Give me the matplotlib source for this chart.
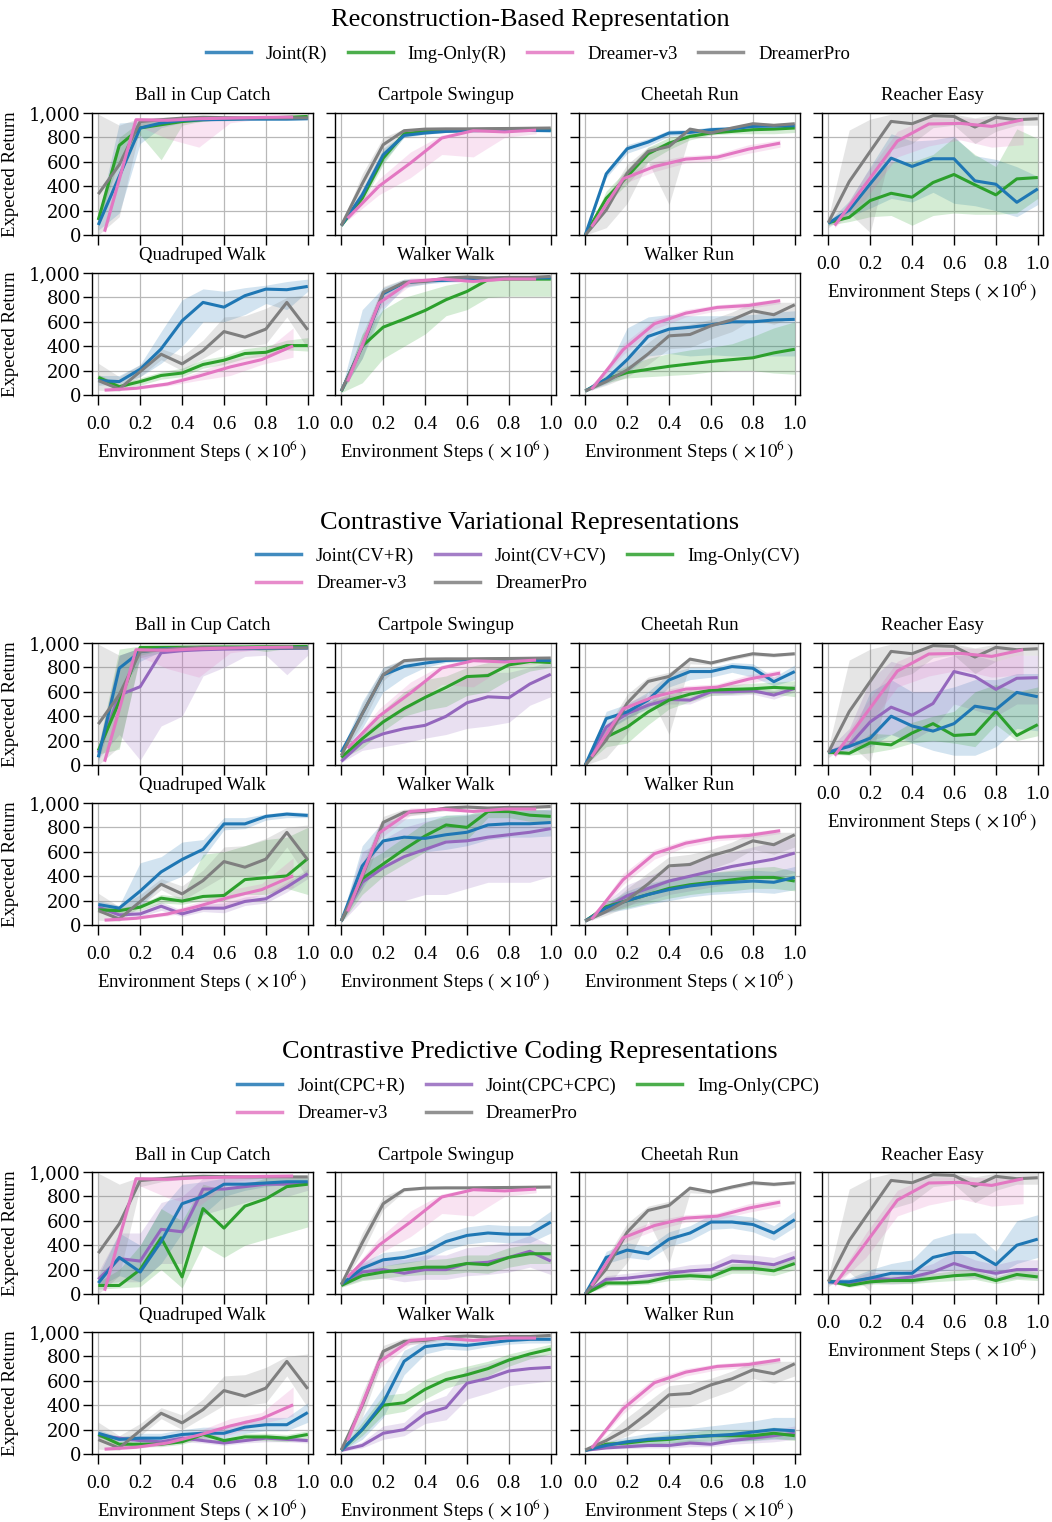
import matplotlib
matplotlib.use('Agg')
import matplotlib.pyplot as plt
import matplotlib.lines as mlines
from matplotlib.ticker import FuncFormatter

plt.rc('font', family='Liberation Serif')
plt.rc('mathtext', fontset='stix')

STEPS = [0.0, 0.1, 0.2, 0.3, 0.4, 0.5, 0.6, 0.7, 0.8, 0.9, 1.0]
DREAMER_STEPS = [0.03, 0.18, 0.33, 0.48, 0.63, 0.78, 0.93]

TASKS = ['Ball in Cup Catch', 'Cartpole Swingup', 'Cheetah Run', 'Reacher Easy',
         'Quadruped Walk', 'Walker Walk', 'Walker Run']

# ---- DreamerPro (shared by all three sections) ----
PRO_MEAN = {
    'Ball in Cup Catch': [335, 575, 930, 945, 958, 965, 962, 960, 960, 960, 960],
    'Cartpole Swingup': [77, 420, 740, 855, 868, 870, 870, 872, 873, 875, 877],
    'Cheetah Run': [0, 205, 507, 685, 726, 868, 836, 877, 912, 899, 912],
    'Reacher Easy': [101, 438, 685, 931, 912, 978, 972, 885, 964, 945, 953],
    'Quadruped Walk': [118, 49, 192, 334, 255, 364, 520, 474, 540, 759, 534],
    'Walker Walk': [33, 397, 841, 923, 931, 959, 967, 959, 964, 964, 972],
    'Walker Run': [33, 110, 205, 337, 485, 496, 567, 616, 690, 658, 740],
}
PRO_LO = {
    'Ball in Cup Catch': [0, 150, 880, 920, 940, 950, 950, 950, 950, 950, 950],
    'Cartpole Swingup': [70, 340, 690, 840, 860, 862, 862, 865, 865, 865, 870],
    'Cheetah Run': [0, 60, 260, 600, 250, 830, 820, 860, 895, 885, 900],
    'Reacher Easy': [60, 180, 20, 700, 750, 880, 900, 750, 850, 900, 900],
    'Quadruped Walk': [40, 30, 150, 290, 200, 300, 400, 400, 420, 640, 380],
    'Walker Walk': [25, 300, 780, 890, 910, 940, 955, 945, 950, 950, 955],
    'Walker Run': [25, 80, 150, 250, 380, 390, 460, 520, 620, 580, 640],
}
PRO_HI = {
    'Ball in Cup Catch': [990, 900, 960, 965, 970, 975, 970, 970, 970, 970, 970],
    'Cartpole Swingup': [85, 500, 800, 870, 875, 878, 878, 880, 880, 880, 882],
    'Cheetah Run': [10, 300, 580, 720, 760, 880, 850, 890, 925, 915, 925],
    'Reacher Easy': [140, 860, 950, 990, 990, 990, 990, 960, 990, 990, 990],
    'Quadruped Walk': [260, 150, 250, 380, 320, 450, 640, 650, 710, 800, 820],
    'Walker Walk': [40, 500, 890, 950, 950, 970, 975, 970, 975, 975, 980],
    'Walker Run': [40, 150, 300, 430, 560, 580, 620, 680, 760, 760, 760],
}

# ---- Dreamer-v3 (shared, evaluated at DREAMER_STEPS) ----
V3_MEAN = {
    'Ball in Cup Catch': [27, 945, 940, 953, 958, 964, 967],
    'Cartpole Swingup': [137, 400, 590, 795, 855, 845, 860],
    'Cheetah Run': [68, 460, 561, 622, 638, 704, 753],
    'Reacher Easy': [77, 420, 770, 910, 915, 890, 945],
    'Quadruped Walk': [40, 55, 90, 155, 230, 290, 403],
    'Walker Walk': [110, 753, 931, 950, 931, 950, 950],
    'Walker Run': [47, 370, 584, 671, 718, 734, 773],
}
V3_LO = {
    'Ball in Cup Catch': [10, 900, 790, 720, 920, 950, 960],
    'Cartpole Swingup': [120, 330, 470, 660, 640, 800, 830],
    'Cheetah Run': [55, 420, 520, 590, 610, 670, 720],
    'Reacher Easy': [60, 300, 640, 730, 780, 720, 740],
    'Quadruped Walk': [30, 45, 75, 120, 160, 250, 310],
    'Walker Walk': [90, 700, 900, 935, 920, 940, 940],
    'Walker Run': [35, 330, 540, 640, 690, 710, 750],
}
V3_HI = {
    'Ball in Cup Catch': [40, 960, 960, 965, 968, 970, 972],
    'Cartpole Swingup': [150, 460, 680, 820, 870, 870, 875],
    'Cheetah Run': [80, 500, 600, 650, 665, 740, 780],
    'Reacher Easy': [95, 500, 850, 960, 960, 950, 960],
    'Quadruped Walk': [50, 70, 110, 190, 290, 340, 550],
    'Walker Walk': [130, 830, 960, 965, 950, 962, 962],
    'Walker Run': [60, 420, 620, 700, 740, 760, 790],
}

# ---- Reconstruction-based ----
JOINT_R_MEAN = {
    'Ball in Cup Catch': [82, 480, 877, 918, 940, 945, 948, 950, 950, 950, 953],
    'Cartpole Swingup': [77, 329, 657, 816, 836, 849, 855, 857, 857, 857, 855],
    'Cheetah Run': [0, 501, 707, 762, 836, 841, 863, 870, 890, 893, 896],
    'Reacher Easy': [96, 205, 419, 630, 562, 625, 625, 444, 416, 268, 378],
    'Quadruped Walk': [118, 110, 211, 378, 608, 759, 720, 814, 868, 863, 890],
    'Walker Walk': [33, 400, 830, 920, 935, 940, 945, 955, 960, 960, 960],
    'Walker Run': [33, 130, 290, 480, 540, 555, 575, 600, 600, 615, 620],
}
JOINT_R_LO = {
    'Ball in Cup Catch': [40, 180, 750, 880, 920, 930, 935, 940, 940, 940, 945],
    'Cartpole Swingup': [70, 290, 600, 800, 825, 840, 845, 848, 848, 848, 845],
    'Cheetah Run': [0, 470, 670, 730, 810, 820, 840, 850, 870, 875, 880],
    'Reacher Easy': [80, 150, 220, 300, 270, 350, 260, 240, 200, 150, 250],
    'Quadruped Walk': [80, 90, 150, 260, 400, 600, 600, 660, 750, 700, 850],
    'Walker Walk': [20, 300, 700, 880, 910, 925, 930, 940, 945, 945, 945],
    'Walker Run': [25, 90, 180, 320, 340, 320, 330, 320, 320, 320, 320],
}
JOINT_R_HI = {
    'Ball in Cup Catch': [150, 918, 930, 950, 955, 958, 960, 960, 960, 960, 960],
    'Cartpole Swingup': [85, 370, 710, 830, 848, 858, 865, 866, 866, 866, 865],
    'Cheetah Run': [0, 530, 740, 790, 860, 865, 885, 890, 910, 912, 915],
    'Reacher Easy': [110, 280, 560, 830, 770, 780, 810, 650, 620, 560, 480],
    'Quadruped Walk': [160, 160, 250, 520, 780, 870, 850, 880, 900, 930, 950],
    'Walker Walk': [45, 700, 880, 950, 955, 958, 960, 968, 972, 972, 972],
    'Walker Run': [40, 200, 550, 640, 660, 650, 650, 650, 660, 680, 690],
}
IMG_R_MEAN = {
    'Ball in Cup Catch': [123, 734, 877, 904, 930, 945, 950, 955, 960, 965, 972],
    'Cartpole Swingup': [77, 301, 630, 830, 849, 855, 857, 858, 860, 862, 863],
    'Cheetah Run': [0, 301, 479, 666, 753, 808, 836, 849, 863, 868, 877],
    'Reacher Easy': [101, 145, 282, 342, 310, 430, 496, 411, 329, 460, 471],
    'Quadruped Walk': [145, 68, 110, 160, 180, 250, 285, 340, 350, 405, 405],
    'Walker Walk': [30, 400, 556, 622, 693, 781, 849, 945, 950, 950, 950],
    'Walker Run': [33, 130, 184, 210, 235, 255, 275, 290, 305, 345, 375],
}
IMG_R_LO = {
    'Ball in Cup Catch': [90, 620, 820, 616, 900, 935, 945, 950, 955, 960, 965],
    'Cartpole Swingup': [70, 260, 580, 810, 835, 842, 845, 846, 848, 850, 850],
    'Cheetah Run': [0, 250, 420, 600, 700, 780, 820, 830, 830, 830, 840],
    'Reacher Easy': [80, 110, 150, 160, 80, 160, 180, 170, 170, 180, 300],
    'Quadruped Walk': [120, 50, 80, 130, 150, 220, 250, 300, 320, 370, 360],
    'Walker Walk': [20, 100, 300, 400, 500, 650, 700, 800, 810, 810, 810],
    'Walker Run': [25, 100, 140, 150, 160, 170, 190, 200, 200, 180, 170],
}
IMG_R_HI = {
    'Ball in Cup Catch': [160, 800, 930, 940, 950, 958, 962, 965, 970, 975, 980],
    'Cartpole Swingup': [85, 340, 690, 845, 860, 866, 868, 870, 872, 874, 876],
    'Cheetah Run': [0, 360, 540, 720, 800, 830, 850, 860, 880, 880, 890],
    'Reacher Easy': [120, 200, 450, 600, 600, 660, 800, 660, 560, 870, 790],
    'Quadruped Walk': [170, 90, 140, 190, 220, 290, 320, 380, 400, 450, 470],
    'Walker Walk': [40, 500, 700, 800, 850, 900, 930, 960, 960, 960, 960],
    'Walker Run': [40, 160, 240, 300, 340, 370, 390, 420, 480, 550, 600],
}

# ---- Contrastive variational ----
JOINT_CVR_MEAN = {
    'Ball in Cup Catch': [63, 793, 928, 950, 955, 957, 958, 958, 958, 960, 960],
    'Cartpole Swingup': [105, 420, 738, 807, 835, 857, 862, 860, 860, 858, 857],
    'Cheetah Run': [0, 380, 435, 532, 697, 766, 766, 807, 793, 683, 766],
    'Reacher Easy': [105, 152, 220, 400, 320, 278, 339, 482, 455, 595, 559],
    'Quadruped Walk': [168, 138, 278, 435, 537, 620, 829, 829, 890, 909, 898],
    'Walker Walk': [33, 484, 689, 720, 710, 740, 760, 820, 830, 830, 840],
    'Walker Run': [33, 140, 200, 250, 290, 320, 340, 350, 360, 350, 390],
}
JOINT_CVR_LO = {
    'Ball in Cup Catch': [20, 600, 850, 930, 940, 945, 945, 945, 945, 950, 950],
    'Cartpole Swingup': [90, 300, 600, 720, 800, 840, 850, 850, 850, 850, 850],
    'Cheetah Run': [0, 280, 380, 470, 640, 700, 720, 760, 720, 650, 700],
    'Reacher Easy': [90, 120, 150, 250, 180, 120, 80, 80, 150, 300, 280],
    'Quadruped Walk': [140, 110, 150, 330, 400, 550, 780, 790, 860, 880, 880],
    'Walker Walk': [20, 300, 550, 600, 600, 620, 650, 700, 720, 720, 730],
    'Walker Run': [25, 100, 130, 170, 200, 230, 250, 260, 270, 260, 290],
}
JOINT_CVR_HI = {
    'Ball in Cup Catch': [120, 900, 960, 965, 968, 970, 970, 970, 970, 970, 970],
    'Cartpole Swingup': [120, 520, 800, 860, 870, 870, 875, 872, 872, 870, 870],
    'Cheetah Run': [0, 440, 500, 600, 750, 800, 800, 840, 830, 720, 820],
    'Reacher Easy': [120, 200, 600, 700, 600, 600, 640, 700, 700, 750, 750],
    'Quadruped Walk': [200, 160, 510, 560, 680, 700, 880, 880, 910, 930, 920],
    'Walker Walk': [45, 650, 850, 870, 880, 900, 910, 930, 940, 940, 950],
    'Walker Run': [40, 180, 280, 340, 380, 410, 430, 440, 450, 440, 480],
}
JOINT_CVCV_MEAN = {
    'Ball in Cup Catch': [100, 573, 642, 920, 937, 945, 950, 952, 955, 955, 960],
    'Cartpole Swingup': [30, 187, 256, 298, 325, 399, 510, 559, 551, 664, 744],
    'Cheetah Run': [0, 311, 421, 490, 537, 532, 600, 600, 609, 573, 628],
    'Reacher Easy': [105, 160, 353, 474, 408, 504, 766, 725, 620, 711, 716],
    'Quadruped Walk': [146, 83, 91, 154, 91, 138, 138, 193, 215, 311, 421],
    'Walker Walk': [33, 350, 470, 560, 620, 680, 690, 720, 740, 760, 790],
    'Walker Run': [33, 140, 240, 300, 360, 400, 440, 480, 510, 540, 590],
}
JOINT_CVCV_LO = {
    'Ball in Cup Catch': [50, 250, 40, 320, 400, 730, 800, 890, 900, 740, 900],
    'Cartpole Swingup': [20, 120, 150, 180, 220, 250, 300, 320, 350, 490, 560],
    'Cheetah Run': [0, 280, 390, 460, 500, 500, 570, 570, 580, 540, 600],
    'Reacher Easy': [90, 120, 200, 250, 200, 300, 500, 450, 400, 500, 500],
    'Quadruped Walk': [120, 60, 70, 120, 70, 110, 100, 160, 180, 270, 380],
    'Walker Walk': [20, 200, 200, 200, 250, 250, 300, 350, 350, 350, 400],
    'Walker Run': [25, 100, 160, 200, 250, 280, 310, 340, 370, 390, 430],
}
JOINT_CVCV_HI = {
    'Ball in Cup Catch': [150, 900, 960, 960, 965, 970, 970, 970, 970, 970, 975],
    'Cartpole Swingup': [45, 260, 380, 460, 560, 620, 720, 760, 760, 800, 850],
    'Cheetah Run': [0, 340, 450, 520, 570, 565, 630, 630, 640, 610, 660],
    'Reacher Easy': [130, 300, 700, 850, 800, 850, 900, 900, 850, 900, 900],
    'Quadruped Walk': [170, 110, 120, 190, 120, 170, 180, 230, 250, 350, 460],
    'Walker Walk': [50, 600, 700, 800, 850, 880, 900, 920, 930, 940, 950],
    'Walker Run': [45, 190, 330, 400, 470, 520, 560, 600, 640, 680, 720],
}
IMG_CV_MEAN = {
    'Ball in Cup Catch': [118, 520, 964, 965, 966, 967, 968, 968, 970, 970, 972],
    'Cartpole Swingup': [63, 215, 353, 463, 554, 636, 725, 733, 821, 848, 840],
    'Cheetah Run': [0, 229, 311, 435, 532, 581, 614, 620, 625, 636, 628],
    'Reacher Easy': [105, 96, 182, 165, 262, 339, 242, 253, 441, 242, 331],
    'Quadruped Walk': [124, 118, 146, 220, 196, 234, 242, 372, 388, 402, 545],
    'Walker Walk': [33, 380, 500, 620, 730, 820, 800, 930, 930, 900, 890],
    'Walker Run': [33, 150, 200, 250, 300, 330, 350, 370, 390, 390, 360],
}
IMG_CV_LO = {
    'Ball in Cup Catch': [90, 130, 900, 940, 950, 955, 955, 955, 930, 955, 960],
    'Cartpole Swingup': [50, 140, 280, 400, 450, 480, 570, 600, 700, 770, 800],
    'Cheetah Run': [0, 150, 180, 330, 460, 520, 570, 580, 590, 580, 560],
    'Reacher Easy': [90, 80, 100, 130, 180, 200, 180, 150, 330, 200, 240],
    'Quadruped Walk': [100, 100, 120, 180, 170, 200, 200, 250, 250, 300, 250],
    'Walker Walk': [20, 250, 400, 500, 600, 700, 700, 880, 880, 850, 840],
    'Walker Run': [25, 110, 140, 180, 220, 250, 270, 280, 300, 300, 280],
}
IMG_CV_HI = {
    'Ball in Cup Catch': [150, 950, 975, 978, 978, 980, 980, 980, 980, 980, 982],
    'Cartpole Swingup': [80, 270, 450, 600, 700, 730, 800, 840, 860, 870, 870],
    'Cheetah Run': [0, 300, 400, 520, 580, 620, 650, 660, 670, 680, 690],
    'Reacher Easy': [120, 120, 260, 250, 350, 400, 440, 600, 660, 600, 640],
    'Quadruped Walk': [150, 140, 170, 250, 230, 580, 600, 650, 700, 720, 800],
    'Walker Walk': [45, 500, 600, 720, 840, 900, 900, 960, 960, 950, 940],
    'Walker Run': [45, 190, 260, 320, 380, 410, 430, 450, 470, 480, 440],
}

# ---- Contrastive predictive coding ----
JOINT_CPCR_MEAN = {
    'Ball in Cup Catch': [90, 300, 180, 430, 740, 800, 900, 900, 910, 920, 920],
    'Cartpole Swingup': [80, 210, 280, 300, 340, 430, 480, 500, 490, 490, 590],
    'Cheetah Run': [0, 300, 360, 330, 450, 500, 590, 590, 570, 500, 610],
    'Reacher Easy': [100, 100, 130, 170, 170, 300, 340, 340, 240, 400, 450],
    'Quadruped Walk': [170, 120, 130, 130, 160, 170, 170, 220, 240, 240, 340],
    'Walker Walk': [30, 200, 420, 760, 880, 900, 890, 910, 930, 940, 940],
    'Walker Run': [30, 70, 100, 120, 130, 140, 150, 160, 180, 200, 190],
}
JOINT_CPCR_LO = {
    'Ball in Cup Catch': [60, 150, 100, 250, 500, 650, 800, 850, 880, 900, 900],
    'Cartpole Swingup': [70, 170, 230, 250, 280, 360, 410, 430, 420, 420, 500],
    'Cheetah Run': [0, 250, 300, 280, 390, 440, 530, 540, 510, 440, 550],
    'Reacher Easy': [80, 80, 90, 110, 100, 180, 200, 200, 150, 250, 300],
    'Quadruped Walk': [140, 100, 100, 100, 120, 130, 130, 170, 190, 190, 260],
    'Walker Walk': [20, 120, 300, 650, 820, 860, 850, 880, 900, 910, 910],
    'Walker Run': [25, 50, 70, 80, 90, 90, 100, 100, 110, 120, 120],
}
JOINT_CPCR_HI = {
    'Ball in Cup Catch': [150, 500, 400, 700, 900, 920, 950, 950, 950, 950, 950],
    'Cartpole Swingup': [95, 260, 340, 360, 400, 500, 550, 570, 560, 560, 680],
    'Cheetah Run': [0, 350, 420, 390, 510, 560, 650, 650, 630, 560, 680],
    'Reacher Easy': [120, 130, 200, 250, 280, 450, 500, 500, 350, 600, 650],
    'Quadruped Walk': [200, 140, 170, 170, 200, 220, 220, 280, 300, 300, 420],
    'Walker Walk': [40, 300, 550, 850, 930, 940, 940, 950, 960, 965, 965],
    'Walker Run': [40, 100, 140, 170, 190, 210, 230, 250, 270, 300, 300],
}
JOINT_CPCCPC_MEAN = {
    'Ball in Cup Catch': [120, 290, 270, 530, 510, 860, 860, 880, 900, 900, 910],
    'Cartpole Swingup': [80, 180, 200, 170, 200, 200, 250, 260, 300, 350, 270],
    'Cheetah Run': [0, 120, 130, 150, 170, 190, 200, 270, 260, 240, 300],
    'Reacher Easy': [100, 90, 130, 120, 140, 180, 250, 200, 170, 200, 200],
    'Quadruped Walk': [150, 130, 110, 100, 130, 110, 90, 110, 130, 120, 110],
    'Walker Walk': [30, 70, 170, 200, 330, 380, 580, 620, 680, 700, 710],
    'Walker Run': [30, 50, 60, 70, 70, 90, 80, 110, 130, 150, 170],
}
JOINT_CPCCPC_LO = {
    'Ball in Cup Catch': [80, 100, 100, 250, 250, 650, 700, 750, 800, 800, 850],
    'Cartpole Swingup': [60, 120, 130, 100, 120, 120, 150, 160, 180, 220, 160],
    'Cheetah Run': [0, 90, 100, 110, 130, 140, 150, 210, 200, 190, 240],
    'Reacher Easy': [85, 70, 90, 80, 90, 120, 150, 130, 110, 130, 130],
    'Quadruped Walk': [130, 110, 90, 80, 100, 90, 70, 90, 100, 100, 90],
    'Walker Walk': [20, 50, 120, 150, 250, 280, 450, 500, 560, 580, 600],
    'Walker Run': [25, 40, 45, 50, 50, 60, 60, 80, 90, 100, 120],
}
JOINT_CPCCPC_HI = {
    'Ball in Cup Catch': [180, 500, 500, 750, 800, 950, 950, 960, 960, 960, 960],
    'Cartpole Swingup': [100, 250, 300, 280, 320, 320, 380, 400, 420, 480, 400],
    'Cheetah Run': [0, 150, 170, 190, 210, 240, 250, 330, 320, 300, 360],
    'Reacher Easy': [115, 120, 180, 170, 200, 250, 350, 280, 240, 280, 280],
    'Quadruped Walk': [170, 150, 130, 120, 160, 130, 110, 130, 160, 140, 130],
    'Walker Walk': [40, 100, 230, 260, 420, 480, 700, 740, 790, 810, 820],
    'Walker Run': [40, 65, 80, 90, 95, 120, 110, 150, 170, 200, 230],
}
IMG_CPC_MEAN = {
    'Ball in Cup Catch': [70, 70, 200, 460, 140, 700, 540, 720, 780, 880, 900],
    'Cartpole Swingup': [70, 150, 180, 200, 220, 220, 250, 240, 300, 330, 330],
    'Cheetah Run': [0, 90, 90, 100, 140, 150, 140, 210, 210, 190, 250],
    'Reacher Easy': [110, 70, 100, 110, 110, 130, 150, 160, 110, 160, 140],
    'Quadruped Walk': [160, 80, 80, 80, 100, 160, 110, 140, 140, 130, 160],
    'Walker Walk': [30, 200, 400, 420, 530, 610, 650, 700, 770, 820, 860],
    'Walker Run': [30, 80, 90, 110, 120, 140, 150, 150, 150, 170, 150],
}
IMG_CPC_LO = {
    'Ball in Cup Catch': [40, 50, 60, 200, 50, 400, 300, 400, 450, 500, 550],
    'Cartpole Swingup': [55, 110, 130, 150, 160, 160, 180, 170, 220, 250, 250],
    'Cheetah Run': [0, 70, 70, 80, 110, 120, 110, 170, 170, 150, 200],
    'Reacher Easy': [95, 55, 80, 85, 85, 100, 110, 120, 85, 120, 110],
    'Quadruped Walk': [140, 60, 60, 60, 80, 130, 90, 110, 110, 100, 130],
    'Walker Walk': [20, 150, 320, 350, 450, 540, 590, 640, 720, 780, 820],
    'Walker Run': [25, 60, 70, 80, 90, 100, 110, 110, 110, 130, 110],
}
IMG_CPC_HI = {
    'Ball in Cup Catch': [100, 200, 400, 700, 600, 900, 850, 900, 950, 950, 960],
    'Cartpole Swingup': [85, 190, 230, 260, 280, 290, 320, 320, 380, 410, 410],
    'Cheetah Run': [0, 110, 110, 130, 170, 180, 170, 250, 250, 230, 300],
    'Reacher Easy': [125, 90, 130, 140, 140, 170, 190, 200, 140, 200, 180],
    'Quadruped Walk': [180, 100, 100, 100, 120, 190, 130, 170, 170, 160, 190],
    'Walker Walk': [40, 260, 480, 500, 610, 680, 720, 760, 820, 860, 900],
    'Walker Run': [40, 100, 120, 140, 160, 180, 200, 200, 200, 220, 200],
}

BLUE, GREEN, PURPLE = '#1f77b4', '#2ca02c', '#9467bd'
PINK, GRAY = '#e377c2', '#7f7f7f'

# (label, colour, x, mean, lo, hi), in legend order
SECTIONS = [
    ('Reconstruction-Based Representation', 4, [
        ('Joint(R)', BLUE, STEPS, JOINT_R_MEAN, JOINT_R_LO, JOINT_R_HI),
        ('Img-Only(R)', GREEN, STEPS, IMG_R_MEAN, IMG_R_LO, IMG_R_HI),
        ('Dreamer-v3', PINK, DREAMER_STEPS, V3_MEAN, V3_LO, V3_HI),
        ('DreamerPro', GRAY, STEPS, PRO_MEAN, PRO_LO, PRO_HI),
    ]),
    ('Contrastive Variational Representations', 3, [
        ('Joint(CV+R)', BLUE, STEPS, JOINT_CVR_MEAN, JOINT_CVR_LO, JOINT_CVR_HI),
        ('Joint(CV+CV)', PURPLE, STEPS, JOINT_CVCV_MEAN, JOINT_CVCV_LO, JOINT_CVCV_HI),
        ('Img-Only(CV)', GREEN, STEPS, IMG_CV_MEAN, IMG_CV_LO, IMG_CV_HI),
        ('Dreamer-v3', PINK, DREAMER_STEPS, V3_MEAN, V3_LO, V3_HI),
        ('DreamerPro', GRAY, STEPS, PRO_MEAN, PRO_LO, PRO_HI),
    ]),
    ('Contrastive Predictive Coding Representations', 3, [
        ('Joint(CPC+R)', BLUE, STEPS, JOINT_CPCR_MEAN, JOINT_CPCR_LO, JOINT_CPCR_HI),
        ('Joint(CPC+CPC)', PURPLE, STEPS, JOINT_CPCCPC_MEAN, JOINT_CPCCPC_LO, JOINT_CPCCPC_HI),
        ('Img-Only(CPC)', GREEN, STEPS, IMG_CPC_MEAN, IMG_CPC_LO, IMG_CPC_HI),
        ('Dreamer-v3', PINK, DREAMER_STEPS, V3_MEAN, V3_LO, V3_HI),
        ('DreamerPro', GRAY, STEPS, PRO_MEAN, PRO_LO, PRO_HI),
    ]),
]

# layout in pixels of the 1052x1522 canvas
W, H = 1052, 1522
COL_LEFT = [92, 335, 579, 822]
AX_W, AX_H = 221, 122
ROW_TOP = [(113, 273), (643, 803), (1172, 1332)]
TITLE_Y = [20, 523, 1052]
LEGEND_Y = [54, 570, 1100]

fig = plt.figure(figsize=(W / 100, H / 100), dpi=100)


def draw_series(ax, series, task):
    for label, color, x, mean, lo, hi in series:
        ax.fill_between(x, lo[task], hi[task], color=color, alpha=0.2, lw=0)
    # purple/green underneath, then blue, DreamerPro, Dreamer-v3 on top
    rank = {PURPLE: 0, GREEN: 1, BLUE: 2, GRAY: 3, PINK: 4}
    for label, color, x, mean, lo, hi in sorted(series, key=lambda s: rank[s[1]]):
        ax.plot(x, mean[task], color=color, lw=2.2, solid_capstyle='butt')


for si, (title, ncol, series) in enumerate(SECTIONS):
    fig.text(530 / W, 1 - TITLE_Y[si] / H, title, ha='center', va='center', fontsize=19)

    handles = [mlines.Line2D([], [], color=c, lw=2.5, alpha=0.85, label=lab)
               for lab, c, *_ in series]
    if ncol == 3:
        # legend fills column by column; reorder so rows read left to right
        handles = [handles[0], handles[3], handles[1], handles[4], handles[2]]
    fig.legend(handles=handles, loc='center', ncol=ncol, frameon=False,
               bbox_to_anchor=(528 / W, 1 - LEGEND_Y[si] / H), fontsize=13.5,
               handlelength=2.4, handletextpad=0.8, columnspacing=1.1,
               labelspacing=0.55)

    for ti, task in enumerate(TASKS):
        row, col = divmod(ti, 4)
        top = ROW_TOP[si][row]
        ax = fig.add_axes([COL_LEFT[col] / W, 1 - (top + AX_H) / H, AX_W / W, AX_H / H])
        draw_series(ax, series, task)

        ax.set_xlim(-0.03, 1.025)
        ax.set_ylim(0, 1000)
        ax.set_xticks([0.0, 0.2, 0.4, 0.6, 0.8, 1.0])
        ax.set_yticks([0, 200, 400, 600, 800, 1000])
        ax.grid(True, color='#b8b8b8', lw=0.9)
        ax.set_axisbelow(True)
        ax.tick_params(axis='x', direction='out', length=7, width=1, labelsize=14, pad=8)
        ax.tick_params(axis='y', direction='out', length=6.5, width=1, pad=1.5)
        for sp in ax.spines.values():
            sp.set_linewidth(1.0)
        ax.set_title(task, fontsize=13.5, pad=9)

        if col == 0:
            ax.yaxis.set_major_formatter(FuncFormatter(lambda v, p: f'{int(v):,}'))
            for lab in ax.get_yticklabels():
                lab.set_fontfamily('DejaVu Serif')
                lab.set_fontsize(13)
            ax.set_ylabel('Expected Return', fontsize=13.5)
            ax.yaxis.set_label_coords(-0.33, 0.5)
        else:
            ax.set_yticklabels([])

        if row == 1 or col == 3:
            ax.xaxis.set_major_formatter(FuncFormatter(lambda v, p: f'{v:.1f}'))
            ax.set_xlabel(r'Environment Steps $(\,\times 10^6\,)$', fontsize=13.5, labelpad=4)
        else:
            ax.set_xticklabels([])

fig.savefig('out.png', dpi=100)
